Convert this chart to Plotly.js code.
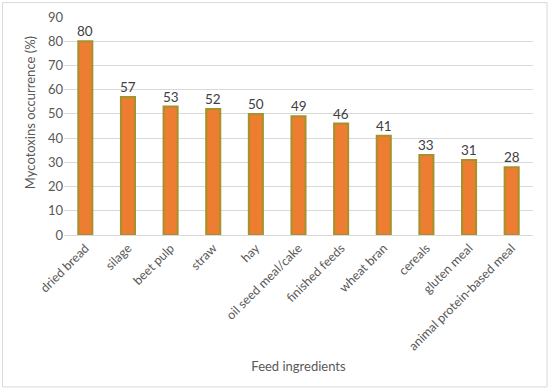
<!DOCTYPE html>
<html>
<head>
<meta charset="utf-8">
<script src="https://cdn.plot.ly/plotly-3.0.1.min.js"></script>
<style>html,body{margin:0;padding:0;background:#fff;}#chart{width:550px;height:390px;}</style>
</head>
<body>
<div id="chart"></div>
<script>
const categories = ["dried bread", "silage", "beet pulp", "straw", "hay", "oil seed meal/cake", "finished feeds", "wheat bran", "cereals", "gluten meal", "animal protein-based meal"];
const occurrence = [80, 57, 53, 52, 50, 49, 46, 41, 33, 31, 28];
const yTicks = [0, 10, 20, 30, 40, 50, 60, 70, 80, 90];

const trace = {
  type: 'bar',
  x: categories,
  y: occurrence,
  marker: {color: '#ED7D31', line: {color: '#A4922F', width: 2}},
  hoverinfo: 'x+y'
};

const labelAnnotations = categories.map((c, i) => ({
  x: c, y: occurrence[i], xref: 'x', yref: 'y',
  text: String(occurrence[i]), showarrow: false,
  yanchor: 'bottom', yshift: 0,
  font: {family: 'Lato, sans-serif', size: 13.5, color: '#404040'}
}));

const layout = {
  width: 550, height: 390,
  margin: {l: 64, r: 17, t: 17, b: 155},
  paper_bgcolor: '#ffffff', plot_bgcolor: '#ffffff',
  font: {family: 'Lato, sans-serif', color: '#595959', size: 13},
  bargap: 0.67,
  showlegend: false,
  xaxis: {
    tickangle: -45,
    tickfont: {size: 12.5, color: '#595959'},
    showgrid: false,
    showline: true, linecolor: '#d9d9d9', linewidth: 1,
    ticks: '',
    title: {text: 'Feed ingredients', font: {size: 13, color: '#595959'}, standoff: 9},
    automargin: false
  },
  yaxis: {
    range: [0, 90],
    tickvals: yTicks,
    ticktext: yTicks.map(String),
    showgrid: true, gridcolor: '#d9d9d9', gridwidth: 1,
    zeroline: false, showline: false,
    ticks: '', ticklen: 0,
    tickfont: {size: 13, color: '#595959'},
    automargin: false
  },
  annotations: labelAnnotations.concat([{
    text: 'Mycotoxins occurrence (%)', xref: 'paper', yref: 'paper',
    x: -0.072, y: 0.56, xanchor: 'center', yanchor: 'middle',
    textangle: -90, showarrow: false,
    font: {family: 'Lato, sans-serif', size: 13, color: '#595959'}
  }]),
  shapes: [{
    type: 'rect', xref: 'paper', yref: 'paper',
    x0: -0.131, x1: 1.030, y0: -0.697, y1: 1.066,
    line: {color: '#d9d9d9', width: 1}, fillcolor: 'rgba(0,0,0,0)', layer: 'below'
  }]
};

Plotly.newPlot('chart', [trace], layout, {displayModeBar: false, staticPlot: true});
</script>
</body>
</html>
